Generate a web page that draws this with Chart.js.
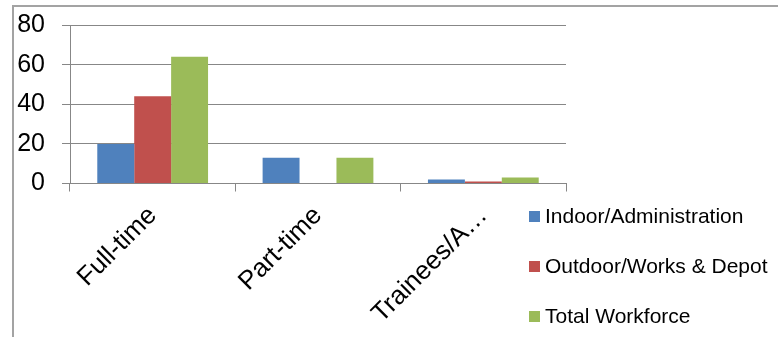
<!DOCTYPE html>
<html>
<head>
<meta charset="utf-8">
<script src="https://cdn.jsdelivr.net/npm/chart.js@4"></script>
<style>
  html, body { margin: 0; padding: 0; background: #fff; }
  #wrap { width: 778px; height: 337px; position: relative; }
</style>
</head>
<body>
<div id="wrap"><canvas id="c" width="778" height="337"></canvas></div>
<script>
// Workforce headcount by employment type
const categories = ['Full-time', 'Part-time', 'Trainees/A\u2026'];
const indoorAdmin = [20, 13, 2];
const outdoorWorks = [44, 0, 1];
const totalWorkforce = [64, 13, 3];
const seriesNames = ['Indoor/Administration', 'Outdoor/Works & Depot', 'Total Workforce'];
const seriesColors = ['#4F81BD', '#C0504D', '#9BBB59'];
const yTicks = [0, 20, 40, 60, 80];

const FONT = "'Liberation Sans', Arial, sans-serif";
const GRID = '#878787';

// Outer frame (left and top edges)
const framePlugin = {
  id: 'frame',
  beforeDraw(chart) {
    const ctx = chart.ctx;
    ctx.save();
    ctx.strokeStyle = '#a3a3a3';
    ctx.lineWidth = 2;
    ctx.beginPath();
    ctx.moveTo(13, chart.height);
    ctx.lineTo(13, 6);
    ctx.lineTo(chart.width, 6);
    ctx.stroke();
    ctx.restore();
  }
};

// Legend stacked under the plot, on the right
const sideLegend = {
  id: 'sideLegend',
  afterDraw(chart) {
    const ctx = chart.ctx;
    const x0 = chart.chartArea.right - 37;
    const y0 = chart.chartArea.bottom + 33;
    ctx.save();
    ctx.font = '21px ' + FONT;
    ctx.textBaseline = 'middle';
    ctx.textAlign = 'left';
    chart.data.datasets.forEach((ds, i) => {
      const cy = y0 + i * 50;
      ctx.fillStyle = ds.backgroundColor;
      ctx.fillRect(x0, cy - 5.5, 11, 11);
      ctx.fillStyle = '#000';
      ctx.fillText(ds.label, x0 + 16, cy + 1);
    });
    ctx.restore();
  }
};

const seriesValues = [indoorAdmin, outdoorWorks, totalWorkforce];

new Chart(document.getElementById('c'), {
  type: 'bar',
  data: {
    labels: categories,
    datasets: seriesValues.map((vals, i) => ({
      label: seriesNames[i],
      data: vals,
      backgroundColor: seriesColors[i],
      borderWidth: 0,
      categoryPercentage: 0.67,
      barPercentage: 1.0
    }))
  },
  options: {
    responsive: false,
    animation: false,
    devicePixelRatio: 1,
    layout: { padding: { top: 25, right: 212, left: 0, bottom: 0 } },
    plugins: {
      legend: { display: false },
      tooltip: { enabled: false }
    },
    scales: {
      x: {
        grid: {
          display: true,
          drawOnChartArea: false,
          drawTicks: true,
          tickLength: 8,
          color: GRID,
          offset: true
        },
        border: { color: GRID, width: 1 },
        ticks: {
          autoSkip: false,
          minRotation: 45,
          maxRotation: 45,
          padding: 9,
          color: '#000',
          font: { family: FONT, size: 26 }
        },
        afterFit(scale) { scale.height = 153.5; }
      },
      y: {
        min: 0,
        max: 80,
        afterBuildTicks(scale) { scale.ticks = yTicks.map(v => ({ value: v })); },
        grid: { color: GRID, tickLength: 8, lineWidth: 1 },
        border: { color: GRID, width: 1 },
        ticks: {
          padding: 17,
          color: '#000',
          font: { family: FONT, size: 25 }
        },
        afterFit(scale) {
          scale.width = 70;
          scale.paddingTop = 0;
          scale.paddingBottom = 0;
        }
      }
    }
  },
  plugins: [framePlugin, sideLegend]
});
</script>
</body>
</html>
